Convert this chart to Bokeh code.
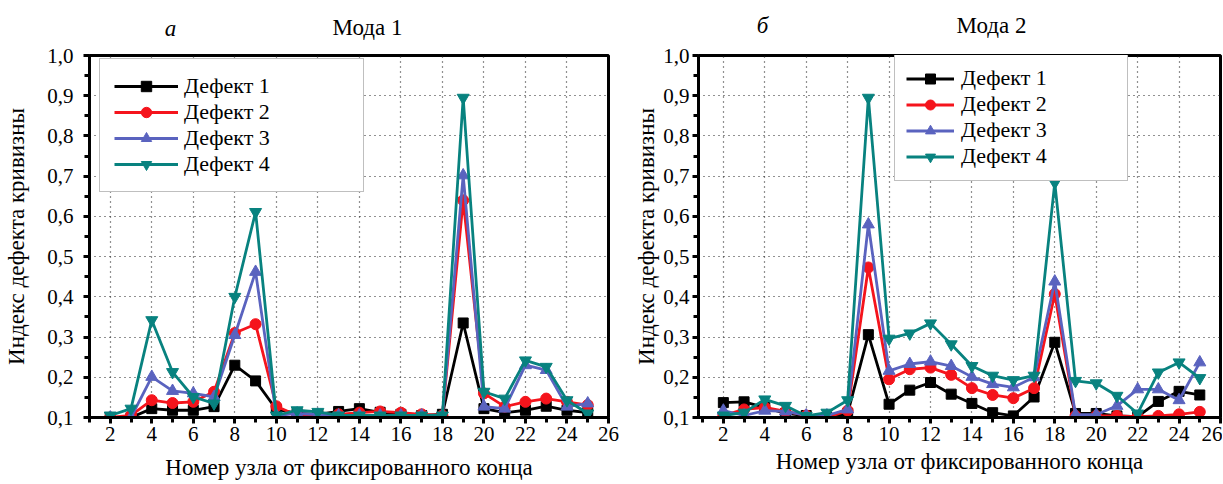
from bokeh.plotting import figure
from bokeh.layouts import row, column
from bokeh.models import (FixedTicker, CustomJSTickFormatter, Legend, LegendItem,
                          Label, Range1d)
from bokeh.embed import file_html
from bokeh.resources import INLINE

# ---------------- data ----------------
nodes = list(range(2, 26))

series_names = ["Дефект 1", "Дефект 2", "Дефект 3", "Дефект 4"]

mode1_defect1 = [0.100, 0.100, 0.122, 0.118, 0.118, 0.127, 0.230, 0.191, 0.120, 0.110,
                 0.108, 0.115, 0.122, 0.113, 0.108, 0.105, 0.108, 0.335, 0.122, 0.112,
                 0.118, 0.128, 0.118, 0.112]
mode1_defect2 = [0.100, 0.105, 0.143, 0.136, 0.139, 0.164, 0.310, 0.332, 0.128, 0.105,
                 0.105, 0.108, 0.112, 0.115, 0.112, 0.108, 0.105, 0.640, 0.160, 0.127,
                 0.139, 0.147, 0.139, 0.131]
mode1_defect3 = [0.100, 0.100, 0.201, 0.166, 0.160, 0.151, 0.305, 0.462, 0.105, 0.110,
                 0.107, 0.105, 0.105, 0.105, 0.105, 0.105, 0.105, 0.702, 0.127, 0.122,
                 0.230, 0.218, 0.127, 0.135]
mode1_defect4 = [0.105, 0.122, 0.342, 0.213, 0.151, 0.135, 0.400, 0.611, 0.105, 0.118,
                 0.114, 0.105, 0.105, 0.105, 0.105, 0.105, 0.105, 0.895, 0.164, 0.147,
                 0.242, 0.226, 0.143, 0.110]

mode2_defect1 = [0.137, 0.139, 0.125, 0.110, 0.105, 0.100, 0.110, 0.306, 0.133, 0.168,
                 0.187, 0.158, 0.135, 0.112, 0.104, 0.151, 0.287, 0.110, 0.110, 0.104,
                 0.102, 0.140, 0.165, 0.156]
mode2_defect2 = [0.105, 0.120, 0.125, 0.115, 0.105, 0.100, 0.117, 0.473, 0.195, 0.220,
                 0.224, 0.206, 0.173, 0.156, 0.148, 0.173, 0.407, 0.104, 0.104, 0.104,
                 0.102, 0.104, 0.108, 0.114]
mode2_defect3 = [0.117, 0.105, 0.117, 0.115, 0.105, 0.105, 0.120, 0.580, 0.216, 0.233,
                 0.239, 0.228, 0.201, 0.183, 0.175, 0.200, 0.438, 0.107, 0.107, 0.129,
                 0.170, 0.170, 0.143, 0.237]
mode2_defect4 = [0.105, 0.112, 0.145, 0.129, 0.104, 0.112, 0.143, 0.895, 0.296, 0.309,
                 0.334, 0.282, 0.228, 0.204, 0.193, 0.204, 0.684, 0.191, 0.185, 0.154,
                 0.110, 0.212, 0.237, 0.198]

x_ticks = [2, 4, 6, 8, 10, 12, 14, 16, 18, 20, 22, 24, 26]
x_minor = [1, 3, 5, 7, 9, 11, 13, 15, 17, 19, 21, 23, 25]
y_ticks = [0.1, 0.2, 0.3, 0.4, 0.5, 0.6, 0.7, 0.8, 0.9, 1.0]
y_minor = [0.15, 0.25, 0.35, 0.45, 0.55, 0.65, 0.75, 0.85, 0.95]

x_label = "Номер узла от фиксированного конца"
y_label = "Индекс дефекта кривизны"
panel_titles = ["Мода 1", "Мода 2"]
panel_letters = ["а", "б"]

colors = ["#000000", "#f5141c", "#5a63bf", "#08827f"]
markers = ["square", "circle", "triangle", "inverted_triangle"]
marker_sizes = [10, 11, 12, 12]

FONT = "Liberation Serif"
HEADER_H = 42


def make_panel(series, x_start, width, b_left, b_right, legend_loc, legend_opts,
               xlab_standoff, ylab_standoff, ytick_standoff):
    p = figure(width=width, height=440, output_backend="svg", toolbar_location=None,
               x_range=Range1d(x_start, 26), y_range=Range1d(0.1, 1.0),
               min_border_left=b_left, min_border_right=b_right,
               min_border_top=13, min_border_bottom=65,
               background_fill_color="white", border_fill_color="white")
    p.outline_line_color = "black"
    p.outline_line_width = 3
    p.outline_line_alpha = 1

    for ax in (p.xaxis[0], p.yaxis[0]):
        ax.axis_line_width = 3
        ax.axis_line_color = "black"
        ax.major_tick_in = 0
        ax.major_tick_out = 6
        ax.minor_tick_in = 0
        ax.minor_tick_out = 5
        ax.major_tick_line_width = 3
        ax.minor_tick_line_width = 3
        ax.major_tick_line_color = "black"
        ax.minor_tick_line_color = "black"
        ax.major_label_text_font = FONT
        ax.major_label_text_font_size = "21px"
        ax.major_label_text_color = "black"
        ax.axis_label_text_font = FONT
        ax.axis_label_text_font_size = "23px"
        ax.axis_label_text_font_style = "normal"
        ax.axis_label_text_color = "black"

    p.xaxis.ticker = FixedTicker(ticks=x_ticks, minor_ticks=x_minor)
    p.yaxis.ticker = FixedTicker(ticks=y_ticks, minor_ticks=y_minor)
    p.yaxis.formatter = CustomJSTickFormatter(code="return tick.toFixed(1).replace('.', ',');")
    p.xaxis.axis_label = x_label
    p.yaxis.axis_label = y_label
    p.xaxis.major_label_standoff = 3
    p.xaxis.axis_label_standoff = xlab_standoff
    p.yaxis.major_label_standoff = ytick_standoff
    p.yaxis.axis_label_standoff = ylab_standoff

    p.xgrid.ticker = FixedTicker(ticks=x_ticks)
    p.ygrid.ticker = FixedTicker(ticks=y_ticks)
    for g in (p.xgrid[0], p.ygrid[0]):
        g.grid_line_color = "#222222"
        g.grid_line_width = 1.2
        g.grid_line_dash = "1 4"

    items = []
    for name, vals, c, m, s in zip(series_names, series, colors, markers, marker_sizes):
        ln = p.line(nodes, vals, line_color=c, line_width=2.8)
        sc = p.scatter(nodes, vals, marker=m, size=s, fill_color=c, line_color=c)
        items.append(LegendItem(label=name, renderers=[ln, sc]))

    legend = Legend(items=items, location=legend_loc,
                    label_text_font=FONT, label_text_font_size="22px",
                    label_text_color="black", spacing=0,
                    border_line_color="#808080", border_line_width=1,
                    background_fill_color="white", background_fill_alpha=1,
                    **legend_opts)
    p.add_layout(legend)
    return p


p1 = make_panel([mode1_defect1, mode1_defect2, mode1_defect3, mode1_defect4],
                x_start=1.0, width=626, b_left=89, b_right=18,
                legend_loc=(10, 225),
                legend_opts=dict(glyph_width=64, glyph_height=26, label_height=26,
                                 label_width=165, label_standoff=6, padding=14),
                xlab_standoff=11, ylab_standoff=15, ytick_standoff=10)

p2 = make_panel([mode2_defect1, mode2_defect2, mode2_defect3, mode2_defect4],
                x_start=0.8, width=596, b_left=72, b_right=2,
                legend_loc=(196, 236),
                legend_opts=dict(glyph_width=48, glyph_height=25, label_height=25,
                                 label_width=155, label_standoff=7, padding=11),
                xlab_standoff=5, ylab_standoff=1, ytick_standoff=3)

# header strip carrying the panel letters and titles (screen-pixel coordinates)
header = figure(width=1222, height=HEADER_H, output_backend="svg", toolbar_location=None,
                x_range=Range1d(0, 1222), y_range=Range1d(0, HEADER_H),
                x_axis_location=None, y_axis_location=None, min_border=0,
                outline_line_color=None, background_fill_color="white",
                border_fill_color="white")
header.grid.visible = False

header_items = [
    (panel_letters[0], 170, 28, "italic"),
    (panel_titles[0], 367, 27, "normal"),
    (panel_letters[1], 762, 25, "italic"),
    (panel_titles[1], 991, 25, "normal"),
]
for txt, cx, cy, style in header_items:
    header.add_layout(Label(x=cx, y=HEADER_H - cy, text=txt, text_font=FONT,
                            text_font_size="23px", text_font_style=style,
                            text_align="center", text_baseline="middle",
                            text_color="black"))

layout = column(header, row(p1, p2))
open("out.html", "w").write(file_html(layout, INLINE))
